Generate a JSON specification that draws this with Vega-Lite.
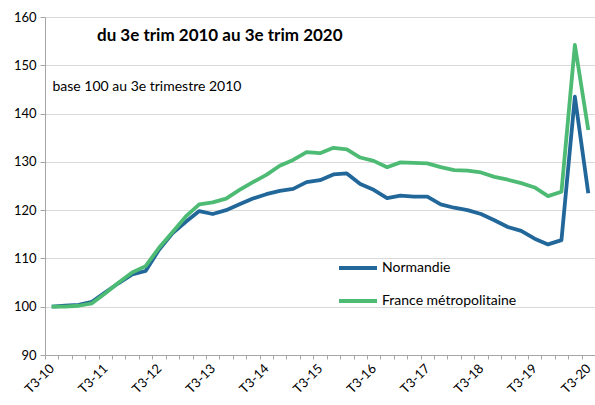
{
  "$schema": "https://vega.github.io/schema/vega-lite/v6.json",
  "width": 550,
  "height": 338,
  "autosize": "none",
  "padding": {"left": 45, "top": 17, "right": 0, "bottom": 50},
  "background": "white",
  "title": {
    "text": "du 3e trim 2010  au 3e trim 2020",
    "anchor": "start",
    "frame": "group",
    "dx": 52,
    "offset": -47,
    "baseline": "alphabetic",
    "fontSize": 17,
    "font": "Lato",
    "fontWeight": "bold",
    "color": "#000000"
  },
  "data": {
    "values": [
      {"q": "T3-10", "serie": "Normandie", "v": 100.0},
      {"q": "T4-10", "serie": "Normandie", "v": 100.2},
      {"q": "T1-11", "serie": "Normandie", "v": 100.4},
      {"q": "T2-11", "serie": "Normandie", "v": 101.0},
      {"q": "T3-11", "serie": "Normandie", "v": 103.0},
      {"q": "T4-11", "serie": "Normandie", "v": 104.9},
      {"q": "T1-12", "serie": "Normandie", "v": 106.7},
      {"q": "T2-12", "serie": "Normandie", "v": 107.4},
      {"q": "T3-12", "serie": "Normandie", "v": 111.8},
      {"q": "T4-12", "serie": "Normandie", "v": 115.2},
      {"q": "T1-13", "serie": "Normandie", "v": 117.6},
      {"q": "T2-13", "serie": "Normandie", "v": 119.8},
      {"q": "T3-13", "serie": "Normandie", "v": 119.2},
      {"q": "T4-13", "serie": "Normandie", "v": 120.0},
      {"q": "T1-14", "serie": "Normandie", "v": 121.2},
      {"q": "T2-14", "serie": "Normandie", "v": 122.4},
      {"q": "T3-14", "serie": "Normandie", "v": 123.3},
      {"q": "T4-14", "serie": "Normandie", "v": 124.0},
      {"q": "T1-15", "serie": "Normandie", "v": 124.4},
      {"q": "T2-15", "serie": "Normandie", "v": 125.8},
      {"q": "T3-15", "serie": "Normandie", "v": 126.2},
      {"q": "T4-15", "serie": "Normandie", "v": 127.4},
      {"q": "T1-16", "serie": "Normandie", "v": 127.6},
      {"q": "T2-16", "serie": "Normandie", "v": 125.4},
      {"q": "T3-16", "serie": "Normandie", "v": 124.2},
      {"q": "T4-16", "serie": "Normandie", "v": 122.5},
      {"q": "T1-17", "serie": "Normandie", "v": 123.0},
      {"q": "T2-17", "serie": "Normandie", "v": 122.8},
      {"q": "T3-17", "serie": "Normandie", "v": 122.8},
      {"q": "T4-17", "serie": "Normandie", "v": 121.2},
      {"q": "T1-18", "serie": "Normandie", "v": 120.5},
      {"q": "T2-18", "serie": "Normandie", "v": 120.0},
      {"q": "T3-18", "serie": "Normandie", "v": 119.2},
      {"q": "T4-18", "serie": "Normandie", "v": 117.9},
      {"q": "T1-19", "serie": "Normandie", "v": 116.5},
      {"q": "T2-19", "serie": "Normandie", "v": 115.7},
      {"q": "T3-19", "serie": "Normandie", "v": 114.1},
      {"q": "T4-19", "serie": "Normandie", "v": 112.9},
      {"q": "T1-20", "serie": "Normandie", "v": 113.8},
      {"q": "T2-20", "serie": "Normandie", "v": 143.5},
      {"q": "T3-20", "serie": "Normandie", "v": 123.5},
      {"q": "T3-10", "serie": "France métropolitaine", "v": 100.0},
      {"q": "T4-10", "serie": "France métropolitaine", "v": 100.0},
      {"q": "T1-11", "serie": "France métropolitaine", "v": 100.2},
      {"q": "T2-11", "serie": "France métropolitaine", "v": 100.7},
      {"q": "T3-11", "serie": "France métropolitaine", "v": 102.8},
      {"q": "T4-11", "serie": "France métropolitaine", "v": 105.0},
      {"q": "T1-12", "serie": "France métropolitaine", "v": 107.1},
      {"q": "T2-12", "serie": "France métropolitaine", "v": 108.4},
      {"q": "T3-12", "serie": "France métropolitaine", "v": 112.2},
      {"q": "T4-12", "serie": "France métropolitaine", "v": 115.4},
      {"q": "T1-13", "serie": "France métropolitaine", "v": 118.7},
      {"q": "T2-13", "serie": "France métropolitaine", "v": 121.2},
      {"q": "T3-13", "serie": "France métropolitaine", "v": 121.6},
      {"q": "T4-13", "serie": "France métropolitaine", "v": 122.4},
      {"q": "T1-14", "serie": "France métropolitaine", "v": 124.2},
      {"q": "T2-14", "serie": "France métropolitaine", "v": 125.8},
      {"q": "T3-14", "serie": "France métropolitaine", "v": 127.3},
      {"q": "T4-14", "serie": "France métropolitaine", "v": 129.2},
      {"q": "T1-15", "serie": "France métropolitaine", "v": 130.4},
      {"q": "T2-15", "serie": "France métropolitaine", "v": 132.0},
      {"q": "T3-15", "serie": "France métropolitaine", "v": 131.8},
      {"q": "T4-15", "serie": "France métropolitaine", "v": 132.9},
      {"q": "T1-16", "serie": "France métropolitaine", "v": 132.6},
      {"q": "T2-16", "serie": "France métropolitaine", "v": 130.9},
      {"q": "T3-16", "serie": "France métropolitaine", "v": 130.2},
      {"q": "T4-16", "serie": "France métropolitaine", "v": 128.9},
      {"q": "T1-17", "serie": "France métropolitaine", "v": 129.9},
      {"q": "T2-17", "serie": "France métropolitaine", "v": 129.8},
      {"q": "T3-17", "serie": "France métropolitaine", "v": 129.7},
      {"q": "T4-17", "serie": "France métropolitaine", "v": 128.9},
      {"q": "T1-18", "serie": "France métropolitaine", "v": 128.3},
      {"q": "T2-18", "serie": "France métropolitaine", "v": 128.2},
      {"q": "T3-18", "serie": "France métropolitaine", "v": 127.8},
      {"q": "T4-18", "serie": "France métropolitaine", "v": 126.9},
      {"q": "T1-19", "serie": "France métropolitaine", "v": 126.3},
      {"q": "T2-19", "serie": "France métropolitaine", "v": 125.6},
      {"q": "T3-19", "serie": "France métropolitaine", "v": 124.7},
      {"q": "T4-19", "serie": "France métropolitaine", "v": 122.9},
      {"q": "T1-20", "serie": "France métropolitaine", "v": 123.8},
      {"q": "T2-20", "serie": "France métropolitaine", "v": 154.2},
      {"q": "T3-20", "serie": "France métropolitaine", "v": 136.6}
    ]
  },
  "mark": {"type": "line", "strokeWidth": 3.8, "strokeJoin": "round"},
  "encoding": {
    "x": {
      "field": "q",
      "type": "ordinal",
      "sort": null,
      "scale": {"type": "point", "padding": 0.5},
      "axis": {
        "title": null,
        "tickOffset": -6.71,
        "labelOffset": 6.71,
        "labelExpr": "indexof(datum.value, 'T3') == 0 ? datum.value : ''",
        "labelAngle": -45,
        "labelAlign": "right",
        "labelBaseline": "middle",
        "labelFont": "Lato",
        "labelFontSize": 13,
        "labelColor": "#000000",
        "labelPadding": 7,
        "labelOverlap": false,
        "domainColor": "#a6a6a6",
        "tickColor": "#a6a6a6",
        "tickSize": 4,
        "grid": false
      }
    },
    "y": {
      "field": "v",
      "type": "quantitative",
      "scale": {"domain": [90, 160], "nice": false, "zero": false},
      "axis": {
        "values": [90, 100, 110, 120, 130, 140, 150, 160],
        "title": "base 100 au 3e  trimestre 2010",
        "titleAngle": 0,
        "titleX": 7,
        "titleY": 69,
        "titleAlign": "left",
        "titleBaseline": "middle",
        "titleFont": "Lato",
        "titleFontSize": 14,
        "titleFontWeight": "normal",
        "titleColor": "#000000",
        "labelFont": "Lato",
        "labelFontSize": 13,
        "labelColor": "#000000",
        "labelPadding": 4,
        "domainColor": "#a6a6a6",
        "tickColor": "#a6a6a6",
        "tickSize": 5,
        "gridColor": "#d9d9d9",
        "gridWidth": 1
      }
    },
    "color": {
      "field": "serie",
      "type": "nominal",
      "scale": {"domain": ["Normandie", "France métropolitaine"], "range": ["#22679a", "#4dbb74"]},
      "legend": {
        "title": null,
        "orient": "none",
        "legendX": 292,
        "legendY": 230,
        "symbolType": "stroke",
        "symbolSize": 1444,
        "symbolStrokeWidth": 4,
        "rowPadding": 4,
        "labelFont": "Lato",
        "labelFontSize": 14,
        "labelColor": "#000000",
        "labelOffset": 3
      }
    }
  },
  "config": {"view": {"stroke": null}}
}
